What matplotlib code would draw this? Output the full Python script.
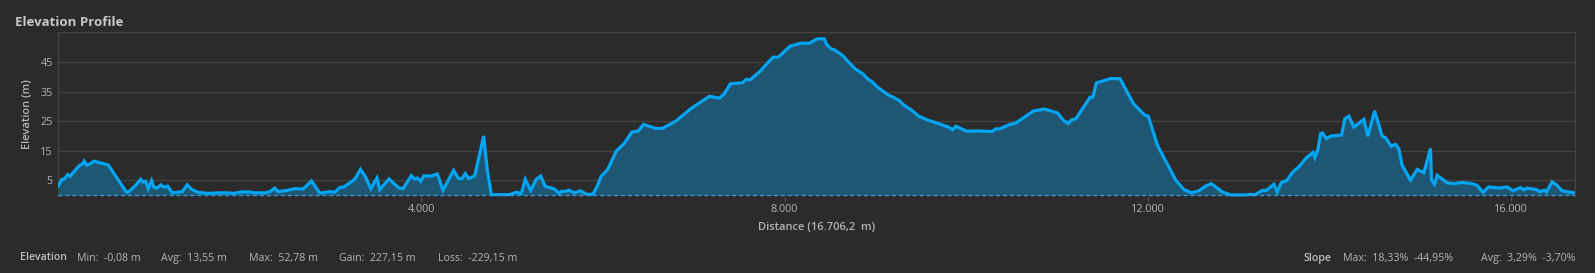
import matplotlib.pyplot as plt

# distance along the route (m) and elevation (m)
distance = [0, 39, 67, 105, 130, 155, 229, 273, 287, 314, 350, 397, 551, 754, 790,
            864, 908, 930, 963, 991, 1029, 1054, 1087, 1131, 1161, 1205, 1256, 1366,
            1421, 1469, 1535, 1652, 1762, 1872, 1927, 2019, 2111, 2166, 2276, 2331,
            2386, 2422, 2514, 2606, 2697, 2790, 2881, 2991, 3046, 3101, 3148, 3266,
            3329, 3384, 3442, 3511, 3541, 3643, 3750, 3797, 3890, 3926, 3956, 3992,
            4025, 4110, 4176, 4238, 4355, 4410, 4447, 4484, 4520, 4587, 4686, 4726,
            4770, 4972, 5045, 5100, 5144, 5203, 5265, 5313, 5364, 5467, 5514, 5540,
            5595, 5621, 5687, 5750, 5822, 5888, 5932, 5981, 6053, 6146, 6237, 6317,
            6391, 6446, 6586, 6659, 6806, 6971, 7172, 7282, 7330, 7403, 7539, 7576,
            7623, 7733, 7814, 7877, 7932, 8060, 8174, 8273, 8346, 8372, 8438, 8463,
            8512, 8548, 8639, 8694, 8776, 8860, 8926, 8970, 9014, 9135, 9263, 9318,
            9392, 9476, 9575, 9722, 9813, 9850, 9887, 10004, 10125, 10283, 10327,
            10371, 10474, 10547, 10741, 10859, 11005, 11071, 11123, 11159, 11208,
            11365, 11395, 11434, 11593, 11695, 11842, 11967, 12006, 12106, 12308,
            12399, 12484, 12564, 12638, 12700, 12821, 12913, 13078, 13133, 13177,
            13261, 13309, 13390, 13426, 13470, 13536, 13599, 13665, 13739, 13819,
            13841, 13874, 13904, 13926, 13965, 14020, 14135, 14171, 14215, 14270,
            14380, 14424, 14498, 14582, 14619, 14681, 14729, 14765, 14802, 14894,
            14967, 15041, 15114, 15125, 15158, 15187, 15297, 15371, 15462, 15572,
            15627, 15693, 15756, 15866, 15957, 16023, 16105, 16141, 16177, 16281,
            16317, 16369, 16391, 16453, 16506, 16562, 16672, 16706]
elevation = [3.0, 5.3, 5.5, 7.0, 6.4, 7.3, 9.9, 10.7, 11.5, 10.1, 10.6, 11.5, 10.2, 0.9, 1.5,
             3.7, 5.4, 4.5, 4.7, 2.2, 4.9, 2.7, 2.4, 3.5, 2.7, 3.1, 0.8, 1.2,
             3.5, 2.0, 1.0, 0.6, 0.8, 0.8, 0.6, 1.1, 1.1, 0.8, 0.8, 1.2,
             2.4, 1.2, 1.6, 2.2, 2.1, 4.8, 0.7, 1.2, 1.0, 2.6, 2.8, 5.4,
             8.7, 6.2, 2.2, 5.8, 1.9, 5.5, 2.5, 2.2, 6.6, 5.4, 5.8, 4.7,
             6.5, 6.5, 7.2, 1.7, 8.4, 5.6, 5.6, 7.3, 5.6, 6.5, 20.0, 8.4,
             0.2, 0.2, 1.0, 0.6, 5.4, 1.6, 5.4, 6.5, 3.0, 2.1, 0.6, 1.3,
             1.3, 1.7, 0.8, 1.5, 0.3, 0.3, 2.8, 6.4, 8.7, 14.9, 17.6, 21.3,
             21.7, 23.9, 22.5, 22.6, 25.1, 29.3, 33.4, 32.8, 34.0, 37.6, 38.0, 39.1,
             39.0, 41.9, 44.7, 46.6, 46.6, 50.3, 51.3, 51.3, 52.6, 52.8, 52.8, 50.9,
             49.4, 49.1, 47.2, 45.3, 42.7, 41.0, 39.0, 38.2, 36.7, 34.0, 32.0, 30.3,
             28.9, 26.7, 25.4, 23.9, 22.9, 22.1, 23.3, 21.6, 21.7, 21.5, 22.4,
             22.4, 23.8, 24.4, 28.4, 29.1, 27.8, 25.3, 24.2, 25.4, 25.8,
             33.1, 33.1, 37.9, 39.4, 39.3, 30.9, 27.0, 26.7, 16.9, 5.1,
             1.9, 0.8, 1.5, 3.1, 3.9, 1.1, 0.1, 0.1, 0.3, 0.1,
             1.6, 1.7, 3.7, 1.1, 4.2, 5.1, 7.9, 9.6, 12.4, 14.4,
             12.7, 15.5, 20.8, 21.0, 19.1, 20.0, 20.3, 25.8, 26.7, 23.0,
             25.6, 19.9, 28.5, 19.9, 19.4, 16.5, 17.2, 15.7, 10.1, 5.1,
             8.7, 7.6, 15.8, 5.1, 3.7, 6.7, 4.2, 3.9, 4.3, 3.9,
             3.3, 1.0, 2.8, 2.4, 2.8, 1.5, 2.6, 1.8, 2.4, 1.9,
             1.2, 1.7, 1.1, 4.5, 3.4, 1.5, 0.9, 0.8]

total_distance = 16706.2
y_ticks = [5, 15, 25, 35, 45]
x_ticks = [4000, 8000, 12000, 16000]
x_tick_labels = ['4.000', '8.000', '12.000', '16.000']

elev_stats = [('Min:', '-0,08 m'), ('Avg:', '13,55 m'), ('Max:', '52,78 m'),
              ('Gain:', '227,15 m'), ('Loss:', '-229,15 m')]
slope_stats = ['Max:  18,33%  -44,95%', 'Avg:  3,29%  -3,70%']

bg = '#2b2b2b'
grid_col = '#434343'
text_col = '#b4b4b4'
line_col = '#00a6f5'
fill_col = '#1f5674'

plt.rcParams['font.family'] = ['Open Sans', 'DejaVu Sans']

fig = plt.figure(figsize=(15.95, 2.73), dpi=100, facecolor=bg)
ax = fig.add_axes([0.0365, 0.2795, 0.951, 0.6022], facecolor=bg)

ax.fill_between(distance, elevation, 0, color=fill_col, lw=0, zorder=2)
ax.plot(distance, elevation, color=line_col, lw=2.3, zorder=3, solid_joinstyle='miter')
ax.axhline(0, color='#3b95d0', lw=1, ls=(0, (3, 2)), zorder=4)

ax.set_xlim(0, total_distance)
ax.set_ylim(-0.5, 55)
ax.set_yticks(y_ticks)
ax.set_xticks(x_ticks)
ax.set_xticklabels(x_tick_labels)
for v in y_ticks + [55]:
    ax.axhline(v, color=grid_col, lw=1, zorder=1)

for s in ['top', 'bottom']:
    ax.spines[s].set_visible(False)
for s in ['left', 'right']:
    ax.spines[s].set_color(grid_col)
    ax.spines[s].set_linewidth(1)

ax.tick_params(axis='y', length=0, pad=4, labelsize=7.8, labelcolor=text_col)
ax.tick_params(axis='x', length=3, color='#5a5a5a', pad=2, labelsize=7.8, labelcolor=text_col)

ax.set_xlabel('Distance (16.706,2  m)', color=text_col, fontsize=8, fontweight='semibold', labelpad=5)
ax.set_ylabel('Elevation (m)', color=text_col, fontsize=8, fontweight='semibold', labelpad=5)

fig.text(15 / 1595, 1 - 22 / 273, 'Elevation Profile', color='#c8c8c8', fontsize=9.5, fontweight='bold',
         va='center', ha='left')

# statistics row
y_row = 1 - 258 / 273
fig.text(20 / 1595, y_row, 'Elevation', color='#c0c0c0', fontsize=7.7, fontweight='semibold', va='center')
for (lab, val), xp in zip(elev_stats, [77, 161, 249, 339, 438]):
    fig.text(xp / 1595, y_row, lab + '  ' + val, color=text_col, fontsize=7.7, va='center')
fig.text(1303 / 1595, y_row, 'Slope', color='#c0c0c0', fontsize=7.7, fontweight='semibold', va='center')
fig.text(1343 / 1595, y_row, slope_stats[0], color=text_col, fontsize=7.7, va='center')
fig.text(1575 / 1595, y_row, slope_stats[1], color=text_col, fontsize=7.7, va='center', ha='right')

fig.savefig('out.png', dpi=100, facecolor=bg)
